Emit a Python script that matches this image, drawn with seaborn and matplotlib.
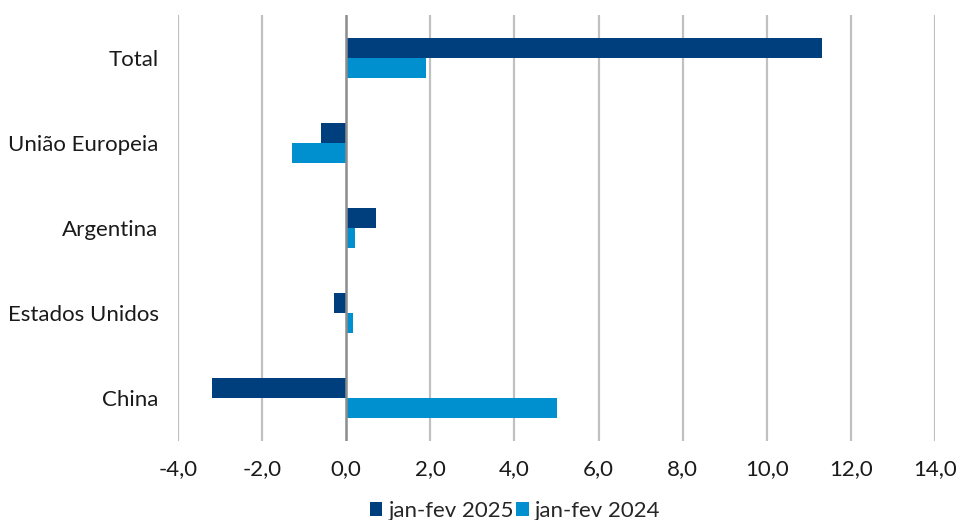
import matplotlib
matplotlib.use("Agg")
import matplotlib.pyplot as plt
import seaborn as sns
import pandas as pd
from matplotlib.patches import Patch

categories = ["Total", "União Europeia", "Argentina", "Estados Unidos", "China"]
series_names = ["jan-fev 2025", "jan-fev 2024"]
values_2025 = [11.3, -0.6, 0.7, -0.3, -3.2]
values_2024 = [1.9, -1.3, 0.2, 0.15, 5.0]
tick_values = [-4, -2, 0, 2, 4, 6, 8, 10, 12, 14]
tick_labels = ["-4,0", "-2,0", "0,0", "2,0", "4,0", "6,0", "8,0", "10,0", "12,0", "14,0"]
colors = ["#003F7D", "#0090D0"]

df = pd.DataFrame({
    "categoria": categories * 2,
    "serie": [series_names[0]] * len(categories) + [series_names[1]] * len(categories),
    "valor": values_2025 + values_2024,
})

sns.set_theme(style="white")
plt.rcParams["font.family"] = ["Lato", "DejaVu Sans"]
fs = 16

fig = plt.figure(figsize=(9.63, 5.2), dpi=100)
ax = fig.add_axes([0.1848, 0.152, 0.971 - 0.1848, 0.971 - 0.152])

sns.barplot(data=df, y="categoria", x="valor", hue="serie", order=categories,
            hue_order=series_names, palette=colors, orient="h", width=0.47,
            ax=ax, legend=False, saturation=1, edgecolor="none", linewidth=0)

ax.set_xlim(-4, 14)
ax.set_xticks(tick_values)
ax.set_xticklabels(tick_labels, fontsize=fs, color="#1a1a1a")
ax.tick_params(axis="y", labelsize=fs, labelcolor="#1a1a1a", length=0, pad=14)
ax.tick_params(axis="x", length=0, pad=13)
ax.set_xlabel("")
ax.set_ylabel("")
ax.set_ylim(4.5, -0.5)

for t in tick_values:
    if t != 0:
        ax.axvline(t, color="#C0C0C4", lw=1.6, zorder=0)
ax.axvline(0, color="#8C8C8C", lw=1.8, zorder=3)
for s in ax.spines.values():
    s.set_visible(False)

handles = [Patch(facecolor=c, edgecolor="none") for c in colors]
fig.legend(handles, series_names, loc="lower center", ncol=2, frameon=False,
           bbox_to_anchor=(0.535, -0.04), fontsize=fs, handlelength=0.55,
           handleheight=0.55, handletextpad=0.3, columnspacing=0.1)

fig.savefig("out.png", dpi=100)
